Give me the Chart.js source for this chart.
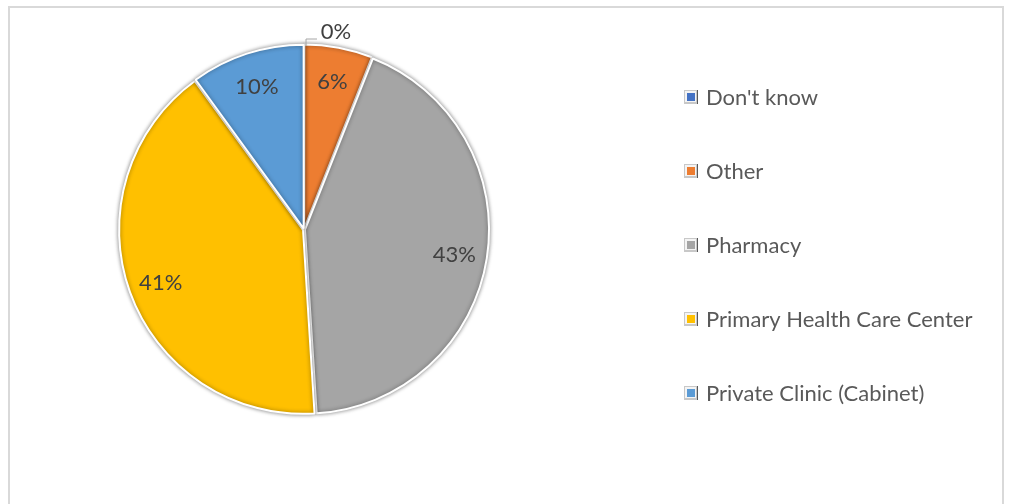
<!DOCTYPE html>
<html>
<head>
<meta charset="utf-8">
<script src="https://cdn.jsdelivr.net/npm/chart.js@4"></script>
<style>
  html, body { margin: 0; padding: 0; background: #fff; overflow: hidden; }
  #wrap { position: relative; width: 1011px; height: 504px; }
  #frame { position: absolute; left: 8px; top: 6px; width: 996px; height: 540px; border: 2px solid #d9d9d9; box-sizing: border-box; }
  canvas { position: absolute; left: 0; top: 0; }
</style>
</head>
<body>
<div id="wrap">
  <div id="frame"></div>
  <canvas id="pie" width="1011" height="504"></canvas>
</div>
<script>
const categories = ["Don't know", 'Other', 'Pharmacy', 'Primary Health Care Center', 'Private Clinic (Cabinet)'];
const shares = [0, 6, 43, 41, 10];
const sliceColors = ['#4472C4', '#ED7D31', '#A5A5A5', '#FFC000', '#5B9BD5'];

const FONT = 'Lato, "Noto Sans", sans-serif';

// soft grey halo round every slice (bevel look)
const sliceShadow = {
    id: 'sliceShadow',
    beforeDatasetsDraw(chart) {
        const ctx = chart.ctx;
        ctx.save();
        ctx.shadowColor = 'rgba(0,0,0,0.45)';
        ctx.shadowBlur = 4;
    },
    afterDatasetsDraw(chart) {
        chart.ctx.restore();
    }
};

// percentage labels inside the slices, leader line for slices too thin to hold one
const sliceLabels = {
    id: 'sliceLabels',
    afterDatasetsDraw(chart) {
        const ctx = chart.ctx;
        const meta = chart.getDatasetMeta(0);
        ctx.save();
        ctx.font = '22px ' + FONT;
        ctx.fillStyle = '#404040';
        ctx.textAlign = 'center';
        ctx.textBaseline = 'middle';
        meta.data.forEach((arc, i) => {
            const v = shares[i];
            const { x, y, startAngle, endAngle, outerRadius } = arc.getProps(['x', 'y', 'startAngle', 'endAngle', 'outerRadius'], true);
            const mid = (startAngle + endAngle) / 2;
            const text = v + '%';
            if (v < 2) {
                const ax = x + Math.cos(mid) * outerRadius + 2;
                const ay = y + Math.sin(mid) * outerRadius;
                ctx.strokeStyle = '#a6a6a6';
                ctx.lineWidth = 1;
                ctx.beginPath();
                ctx.moveTo(ax, ay);
                ctx.lineTo(ax, ay - 7);
                ctx.lineTo(ax + 11, ay - 7);
                ctx.stroke();
                ctx.fillText(text, ax + 30, ay - 14);
                return;
            }
            const r = outerRadius * 0.83;
            ctx.fillText(text, x + Math.cos(mid) * r, y + Math.sin(mid) * r + 2);
        });
        ctx.restore();
    }
};

// legend column on the right with small bevelled swatches
const sideLegend = {
    id: 'sideLegend',
    afterDraw(chart) {
        const ctx = chart.ctx;
        const left = 684, top = 97, step = 74, box = 14;
        ctx.save();
        ctx.font = '22px ' + FONT;
        ctx.textBaseline = 'middle';
        chart.data.labels.forEach((label, i) => {
            const y = top + i * step;
            const by = y - box / 2;
            ctx.fillStyle = '#c8c8c8';
            ctx.fillRect(left, by, box, box);
            ctx.fillStyle = '#f4f4f4';
            ctx.fillRect(left + 1, by + 1, box - 3, box - 3);
            ctx.fillStyle = sliceColors[i];
            ctx.fillRect(left + 3, by + 3, box - 6, box - 6);
            ctx.fillStyle = '#595959';
            ctx.fillRect(left + box - 1, by, 1, box);
            ctx.fillText(label, left + box + 8, y + 1);
        });
        ctx.restore();
    }
};

new Chart(document.getElementById('pie'), {
    type: 'pie',
    data: {
        labels: categories,
        datasets: [{
            data: shares,
            backgroundColor: sliceColors,
            borderColor: '#ffffff',
            borderWidth: 2,
            offset: 4
        }]
    },
    options: {
        responsive: false,
        animation: false,
        layout: { padding: { left: 116, right: 519, top: 43, bottom: 88 } },
        plugins: {
            legend: { display: false },
            tooltip: { enabled: false }
        }
    },
    plugins: [sliceShadow, sliceLabels, sideLegend]
});
</script>
</body>
</html>
